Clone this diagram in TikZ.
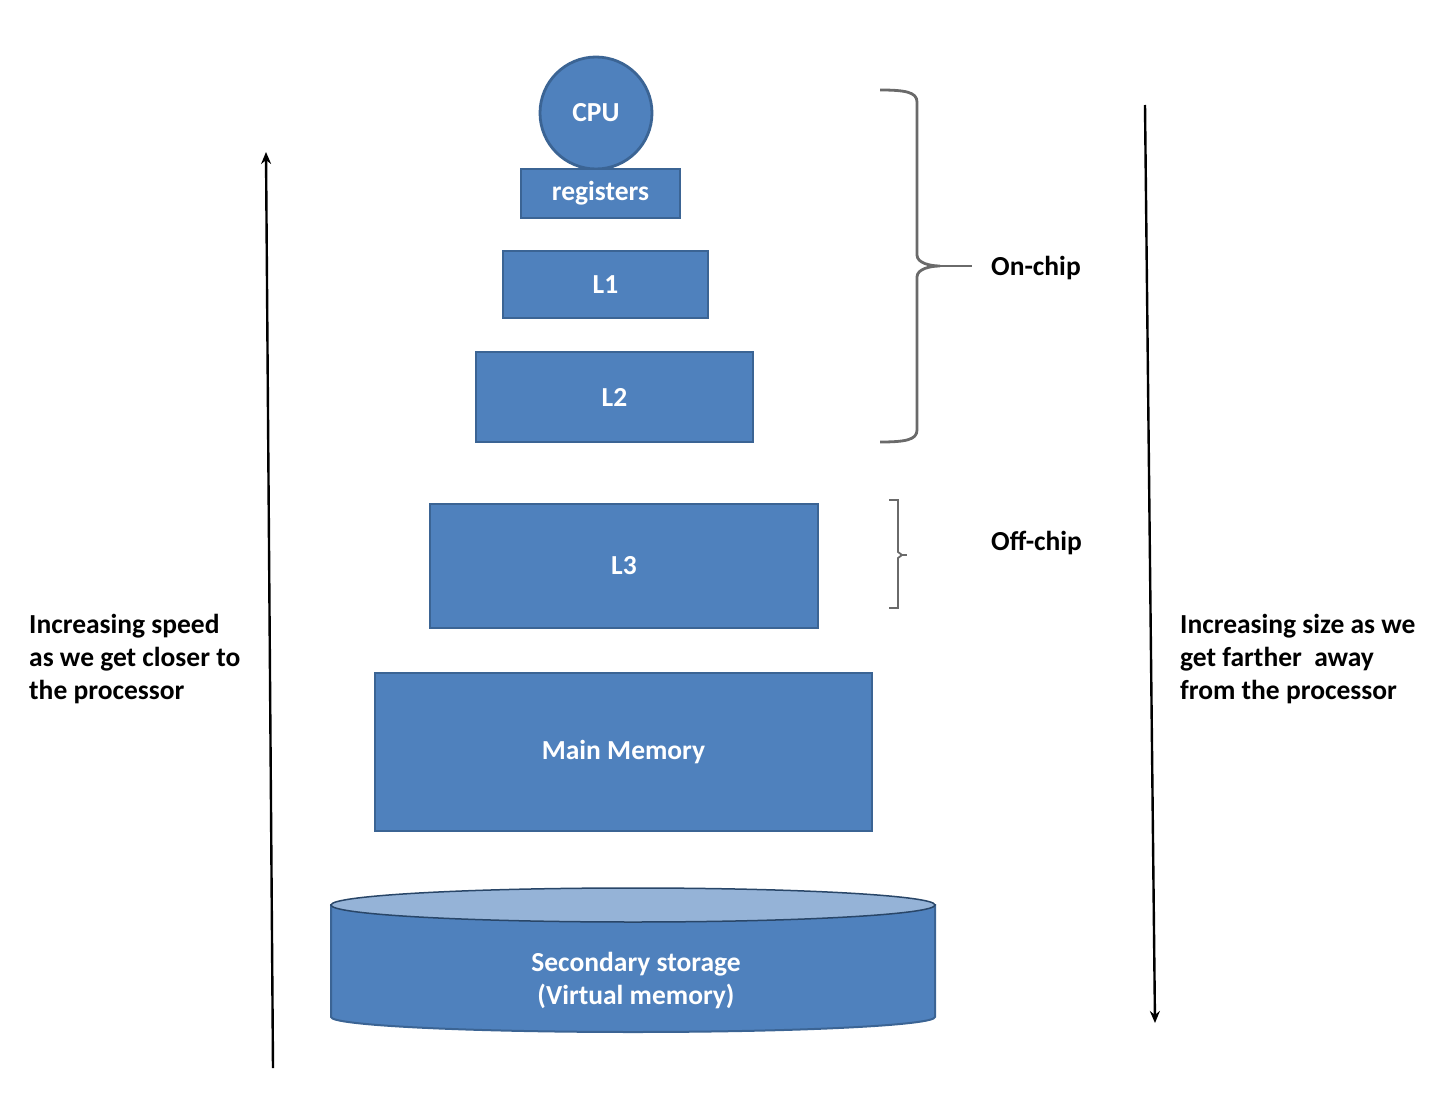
\documentclass[tikz,border=0pt]{standalone}
\usepackage{fontspec}
\setmainfont{Carlito}
\usetikzlibrary{arrows.meta}
\definecolor{boxblue}{HTML}{4F81BD}
\definecolor{boxedge}{HTML}{3B6494}
\definecolor{toplight}{HTML}{95B3D7}
\definecolor{bracegray}{HTML}{6A6A6A}
\begin{document}
\begin{tikzpicture}[x=1pt,y=-1pt,
  every node/.style={font=\fontsize{27.5}{33}\selectfont\bfseries},
  membox/.style={draw=boxedge, line width=2.8pt, fill=boxblue, text=white, inner sep=0pt},
  arr/.style={line width=2.4pt, -{Stealth[length=12pt,width=10pt]}},
  bracestyle/.style={draw=bracegray, line width=2.8pt},
  sidetext/.style={align=left, anchor=west, text=black, inner sep=0pt}]
\useasboundingbox (0,0) rectangle (1433,1097);
% memory levels
\node[membox, circle, minimum size=112pt] (cpu) at (596,113) {CPU};
\node[membox, minimum width=159pt, minimum height=49pt] (reg) at (600.5,193.5) {registers};
\node[membox, minimum width=205pt, minimum height=67pt] (l1) at (605.5,284.5) {L1};
\node[membox, minimum width=277pt, minimum height=90pt] (l2) at (614.5,397) {L2};
\node[membox, minimum width=388pt, minimum height=124pt] (l3) at (624,566) {L3};
\node[membox, minimum width=497pt, minimum height=158pt] (mm) at (623.5,752) {Main Memory};
% cylinder
\path[fill=boxblue, draw=boxedge, line width=2pt]
  (331,905) -- (331,1017) arc[start angle=180, end angle=0, x radius=302, y radius=15] -- (935,905) -- cycle;
\path[fill=toplight, draw=boxedge!70!black, line width=1.5pt] (633,905) ellipse [x radius=302, y radius=17];
\node[text=white, align=center, inner sep=0pt] (sec) at (636,981) {Secondary storage\\(Virtual memory)};
% on-chip brace
\coordinate (b1) at (880,90);
\coordinate (btip) at (940,266);
\coordinate (b2) at (880,442);
\coordinate (bend) at (972,266);
\draw[bracestyle] (b1) .. controls (905,90) and (917,92) .. (917,102) -- (917,255)
  .. controls (917,263) and (930,266) .. (btip)
  .. controls (930,266) and (917,269) .. (917,277) -- (917,430)
  .. controls (917,440) and (905,442) .. (b2);
\draw[bracestyle] (btip) -- (bend);
\node[text=black, anchor=west, inner sep=0pt] (on) at (991,268) {On-chip};
% off-chip brace
\coordinate (c1) at (889,500);
\coordinate (ctip) at (902,555);
\coordinate (c2) at (889,608);
\draw[draw=bracegray, line width=1.8pt] (c1) -- (898,500) -- (898,552) -- (ctip) -- (898,558) -- (898,608) -- (c2);
\draw[draw=bracegray, line width=1.2pt] (ctip) -- (907,555);
\node[text=black, anchor=west, inner sep=0pt] (off) at (991,543) {Off-chip};
% arrows
\coordinate (lb) at (273,1068);
\coordinate (lt) at (266,152);
\draw[arr] (lb) -- (lt);
\coordinate (rt) at (1145,105);
\coordinate (rb) at (1155,1023);
\draw[arr] (rt) -- (rb);
% side texts
\node[sidetext] (lefttxt) at (29,659) {Increasing speed\\as we get closer to\\the processor};
\node[sidetext] (righttxt) at (1180,659) {Increasing size as we\\get farther~ away\\from the processor};
\end{tikzpicture}
\end{document}
